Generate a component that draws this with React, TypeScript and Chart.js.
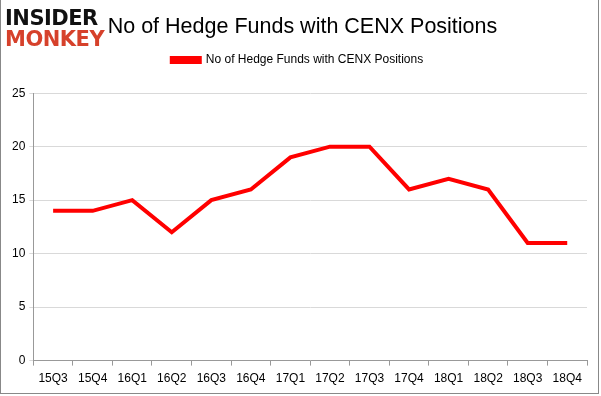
import React, { useEffect, useRef } from "react";
import { Chart, registerables } from "chart.js";

Chart.register(...registerables);

const categories = ["15Q3", "15Q4", "16Q1", "16Q2", "16Q3", "16Q4", "17Q1", "17Q2", "17Q3", "17Q4", "18Q1", "18Q2", "18Q3", "18Q4"];
const hedgeFunds = [14, 14, 15, 12, 15, 16, 19, 20, 20, 16, 17, 16, 11, 11];
const seriesName = "No of Hedge Funds with CENX Positions";
const chartTitle = "No of Hedge Funds with CENX Positions";

const FONT = "'Liberation Sans', Arial, sans-serif";

export default function App() {
  const ref = useRef<HTMLCanvasElement>(null);
  useEffect(() => {
    const chart = new Chart(ref.current!, {
      type: "line",
      data: {
        labels: categories,
        datasets: [
          {
            label: seriesName,
            data: hedgeFunds,
            borderColor: "#ff0000",
            backgroundColor: "#ff0000",
            borderWidth: 4,
            pointRadius: 0,
            tension: 0,
          },
        ],
      },
      options: {
        animation: false,
        responsive: false,
        maintainAspectRatio: false,
        layout: { padding: { left: 7, right: 12, top: 25, bottom: 2 } },
        plugins: {
          title: { display: false },
          subtitle: {
            display: true,
            text: " ",
            weight: 500,
            font: { size: 1 },
            padding: { top: 16, bottom: 0 },
          } as any,
          legend: {
            display: true,
            labels: {
              color: "#000",
              font: { family: FONT, size: 12 },
              boxWidth: 28,
              boxHeight: 4,
              padding: 28,
            },
          },
          tooltip: { enabled: false },
        },
        scales: {
          x: {
            offset: true,
            grid: { display: true, drawOnChartArea: false, drawTicks: true, tickLength: 5, offset: true, color: "#999" },
            border: { display: true, color: "#999" },
            ticks: { color: "#000", font: { family: FONT, size: 12 }, maxRotation: 0, padding: 6 },
          },
          y: {
            min: 0,
            max: 25,
            ticks: { stepSize: 5, color: "#000", font: { family: FONT, size: 12 }, padding: 4 },
            grid: { color: "#d9d9d9", drawTicks: true, tickLength: 4 },
            border: { display: true, color: "#999" },
          },
        },
      },
    });
    return () => chart.destroy();
  }, []);
  return (
    <div style={{ position: "absolute", left: 0, top: 0, width: 601, height: 396, background: "#fff" }}>
      <canvas ref={ref} width={598} height={393} style={{ position: "absolute", left: 1, top: 1 }} />
      <div style={{ position: "absolute", left: 0, top: 0, width: 599, height: 394, border: "1px solid #888", boxSizing: "border-box", borderWidth: "0 1px 1px 1px", pointerEvents: "none" }} />
      <div style={{ position: "absolute", left: 0, width: 601, top: 12, textAlign: "center", fontFamily: FONT, fontSize: 21.5, lineHeight: "28px", color: "#000", paddingLeft: 4, boxSizing: "border-box" }}>
        {chartTitle}
      </div>
      <div style={{ position: "absolute", left: 5, top: 8, fontFamily: "'DejaVu Sans', sans-serif", fontWeight: 900, lineHeight: "21px", letterSpacing: "-0.5px" }}>
        <div style={{ color: "#111", fontSize: 21 }}>INSIDER</div>
        <div style={{ color: "#d6412b", fontSize: 21 }}>MONKEY</div>
      </div>
    </div>
  );
}
